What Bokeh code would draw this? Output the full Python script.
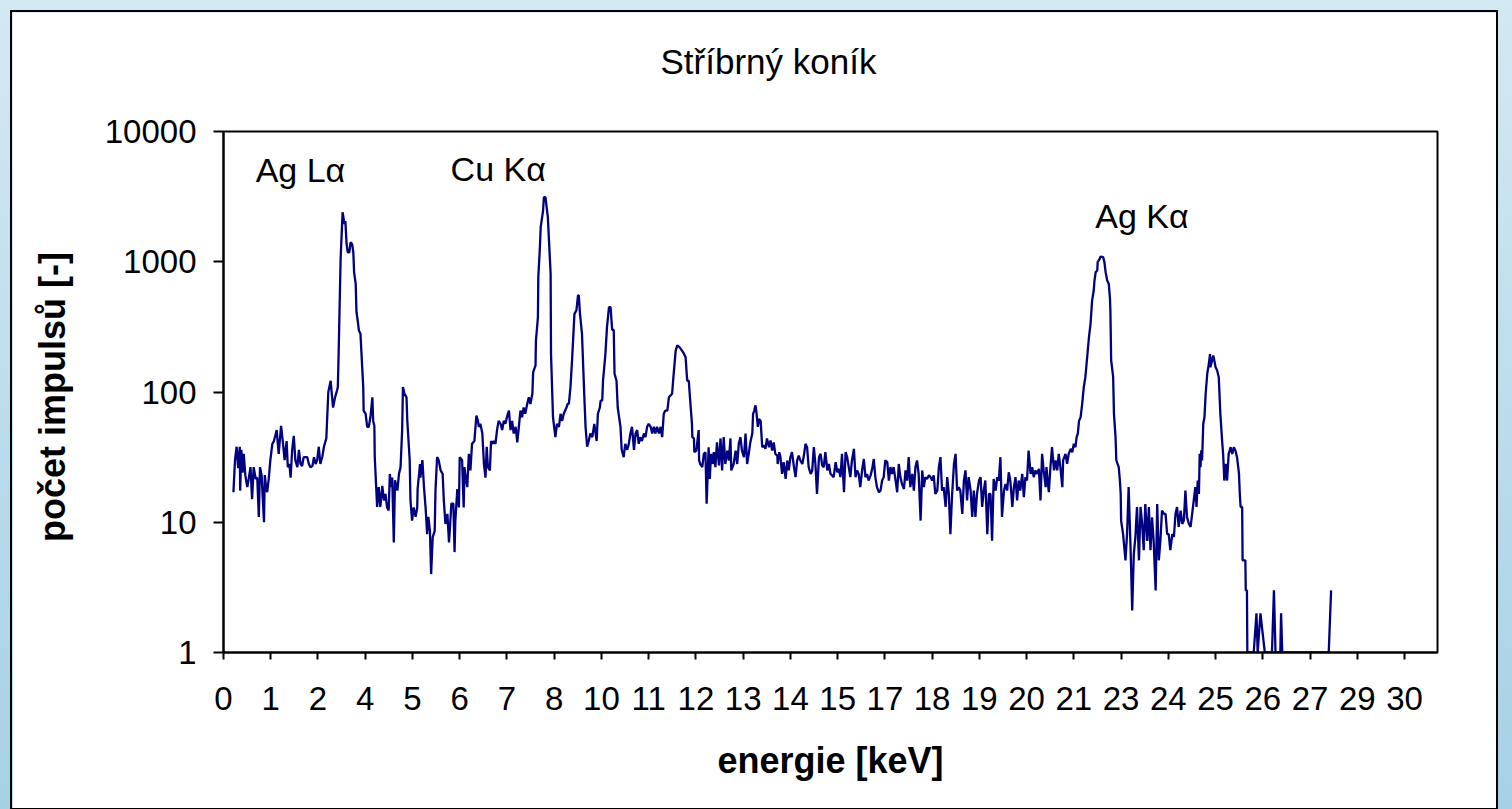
from bokeh.plotting import figure
from bokeh.models import (Range1d, FixedTicker, Label, PrintfTickFormatter, Title, LinearAxis,
                          ColumnDataSource, InlineStyleSheet, GlobalInlineStyleSheet)
from bokeh.embed import file_html
from bokeh.resources import INLINE

# ---------------- data ----------------
title_text = "Stříbrný koník"
x_label = "energie [keV]"
y_label = "počet impulsů  [-]"

x_tick_labels = ["0", "1", "2", "4", "5", "6", "7", "8", "10", "11", "12", "13", "14",
                 "15", "17", "18", "19", "20", "21", "23", "24", "25", "26", "27", "29", "30"]
x_tick_step_kev = 1.19
y_ticks = [1, 10, 100, 1000, 10000]

peak_names = ["Ag Lα", "Cu Kα", "Ag Kα"]
peak_label_kev = [0.81, 5.72, 21.96]
peak_label_counts = [5060, 5150, 2240]

energy_kev = [
    0.25, 0.29, 0.33, 0.37, 0.41, 0.42, 0.45, 0.48, 0.51, 0.55, 0.58, 0.60, 0.64, 0.68, 0.72, 0.76,
    0.81, 0.85, 0.89, 0.92, 0.96, 1.02, 1.04, 1.07, 1.10, 1.14, 1.18, 1.23, 1.27, 1.31, 1.34, 1.39,
    1.45, 1.50, 1.54, 1.59, 1.62, 1.66, 1.69, 1.73, 1.77, 1.81, 1.86, 1.90, 1.94, 1.98, 2.02, 2.07,
    2.11, 2.15, 2.19, 2.24, 2.28, 2.32, 2.36, 2.40, 2.44, 2.49, 2.53, 2.59, 2.64, 2.70, 2.72, 2.76,
    2.81, 2.86, 2.88, 2.90, 2.95, 3.00, 3.02, 3.05, 3.07, 3.10, 3.13, 3.17, 3.20, 3.24, 3.27, 3.29,
    3.33, 3.35, 3.38, 3.41, 3.45, 3.52, 3.53, 3.58, 3.62, 3.66, 3.70, 3.75, 3.77, 3.80, 3.81, 3.87,
    3.91, 3.95, 4.00, 4.04, 4.08, 4.12, 4.16, 4.19, 4.22, 4.25, 4.29, 4.32, 4.38, 4.42, 4.46, 4.50,
    4.52, 4.56, 4.61, 4.63, 4.67, 4.69, 4.71, 4.75, 4.79, 4.84, 4.88, 4.89, 4.95, 4.96, 5.01, 5.05,
    5.09, 5.13, 5.16, 5.20, 5.23, 5.27, 5.32, 5.34, 5.38, 5.42, 5.47, 5.52, 5.55, 5.59, 5.64, 5.68,
    5.70, 5.74, 5.79, 5.82, 5.84, 5.89, 5.93, 5.95, 6.01, 6.05, 6.07, 6.10, 6.14, 6.18, 6.22, 6.26,
    6.32, 6.37, 6.41, 6.43, 6.47, 6.52, 6.56, 6.60, 6.63, 6.66, 6.71, 6.74, 6.78, 6.81, 6.85, 6.89,
    6.93, 6.98, 7.02, 7.06, 7.10, 7.15, 7.19, 7.23, 7.27, 7.31, 7.36, 7.40, 7.44, 7.48, 7.52, 7.56,
    7.60, 7.65, 7.69, 7.73, 7.78, 7.80, 7.86, 7.87, 7.92, 7.93, 7.97, 7.99, 8.05, 8.07, 8.11, 8.17,
    8.24, 8.25, 8.30, 8.36, 8.40, 8.45, 8.49, 8.53, 8.57, 8.64, 8.67, 8.70, 8.74, 8.78, 8.84, 8.89,
    8.93, 8.95, 8.98, 9.03, 9.09, 9.12, 9.16, 9.20, 9.24, 9.29, 9.34, 9.40, 9.43, 9.48, 9.50, 9.54,
    9.56, 9.62, 9.66, 9.71, 9.75, 9.79, 9.83, 9.85, 9.90, 9.93, 10.00, 10.03, 10.08, 10.12, 10.17, 10.21,
    10.25, 10.29, 10.34, 10.38, 10.42, 10.46, 10.50, 10.54, 10.59, 10.63, 10.67, 10.71, 10.76, 10.80, 10.84, 10.88,
    10.92, 10.97, 11.01, 11.05, 11.09, 11.13, 11.18, 11.22, 11.30, 11.34, 11.39, 11.43, 11.49, 11.55, 11.60, 11.64,
    11.68, 11.72, 11.75, 11.80, 11.81, 11.85, 11.86, 11.91, 11.97, 11.98,
    12.01, 12.06, 12.10, 12.14, 12.17, 12.22, 12.25, 12.28, 12.32, 12.35, 12.39, 12.43, 12.48, 12.52, 12.56, 12.60,
    12.64, 12.69, 12.73, 12.77, 12.79, 12.85, 12.90, 12.94, 12.98, 13.02, 13.06, 13.11, 13.15, 13.19, 13.23, 13.27,
    13.32, 13.34, 13.37, 13.40, 13.42, 13.46, 13.49, 13.53, 13.57, 13.61, 13.65, 13.69, 13.74, 13.78, 13.82, 13.86,
    13.90, 13.95, 13.96, 14.00, 14.03, 14.07, 14.11, 14.16, 14.20, 14.24, 14.28, 14.32, 14.37, 14.41, 14.45, 14.49,
    14.53, 14.58, 14.62, 14.66, 14.70, 14.74, 14.79, 14.83, 14.87, 14.91, 14.95, 15.00, 15.04, 15.08, 15.12, 15.16,
    15.21, 15.25, 15.29, 15.33, 15.37, 15.42, 15.46, 15.50, 15.54, 15.58, 15.63, 15.67, 15.71, 15.75, 15.79, 15.83,
    15.88, 15.92, 15.96, 16.00, 16.04, 16.09, 16.13, 16.17, 16.21, 16.25, 16.30, 16.34, 16.38, 16.42, 16.46, 16.51,
    16.55, 16.59, 16.63, 16.67, 16.72, 16.76, 16.80, 16.84, 16.88, 16.93, 16.97, 17.01, 17.05, 17.09, 17.14, 17.18,
    17.22, 17.26, 17.30, 17.35, 17.39, 17.43, 17.47, 17.51, 17.56, 17.60, 17.64, 17.68, 17.72, 17.77, 17.81, 17.85,
    17.89, 17.93, 17.98, 18.02, 18.06, 18.10, 18.14, 18.19, 18.23, 18.27, 18.31, 18.35, 18.40, 18.44, 18.48, 18.52,
    18.56, 18.61, 18.65, 18.69, 18.73, 18.77, 18.82, 18.86, 18.90, 18.94, 18.98, 19.03, 19.07, 19.11, 19.15, 19.19,
    19.24, 19.28, 19.32, 19.36, 19.40, 19.45, 19.49, 19.53, 19.57, 19.61, 19.66, 19.70, 19.74, 19.78, 19.82, 19.87,
    19.91, 19.95, 19.99, 20.03, 20.07, 20.12, 20.16, 20.20, 20.24, 20.28, 20.33, 20.37, 20.41, 20.45, 20.49, 20.54,
    20.58, 20.62, 20.66, 20.71, 20.73, 20.76, 20.79, 20.83, 20.87, 20.92, 20.96, 21.00, 21.04, 21.08, 21.13, 21.15,
    21.18, 21.21, 21.25, 21.29, 21.34, 21.38, 21.42, 21.46, 21.49, 21.52, 21.55, 21.59, 21.63, 21.67, 21.71, 21.74,
    21.80, 21.84, 21.86, 21.88, 21.92, 21.94, 21.97, 22.01, 22.02, 22.07, 22.09, 22.16, 22.19, 22.22, 22.26, 22.30,
    22.33, 22.34, 22.36, 22.41, 22.43, 22.47, 22.49, 22.55, 22.58, 22.60, 22.61, 22.66, 22.72, 22.76, 22.80, 22.85,
    22.89, 22.93, 22.97, 23.01, 23.06, 23.10, 23.14, 23.18, 23.22, 23.27, 23.31, 23.35, 23.39, 23.43, 23.48, 23.52,
    23.56, 23.60, 23.64, 23.69, 23.73, 23.77, 23.81, 23.85, 23.90, 23.94, 23.98, 24.02, 24.06, 24.11, 24.15, 24.19,
    24.23, 24.27, 24.32, 24.36, 24.40, 24.44, 24.48, 24.51, 24.54, 24.57, 24.59, 24.61, 24.63, 24.65, 24.68, 24.71,
    24.74, 24.78, 24.82, 24.85, 24.86, 24.88, 24.93, 24.95, 24.99, 25.03, 25.07, 25.11, 25.16, 25.18, 25.21, 25.25,
    25.28, 25.32, 25.37, 25.41, 25.45, 25.49, 25.53, 25.58, 25.60, 25.62, 25.66, 25.67, 25.74, 25.75, 25.78, 25.79,
    25.95, 26.02, 26.05, 26.12, 26.23, 26.41, 26.46, 26.50, 26.62, 26.64, 26.67, 27.84, 27.90,
]

counts = [
    17, 30, 38, 26, 38, 17.5, 36, 24, 33.5, 23, 20, 18.6, 22, 26.5, 15, 26.5,
    21.5, 22, 11, 26.5, 23, 10, 23, 19, 17, 21.5, 30, 40, 42, 47, 51, 33.5,
    55, 40, 30, 42, 26.5, 28, 22, 36, 46, 30, 26.5, 36, 28, 27, 31.6, 31.6,
    31.6, 28, 26.5, 27, 31.6, 28, 30, 38, 28, 32, 38, 44, 100, 122, 103, 76,
    91, 103, 109, 196, 1054, 2400, 2200, 1950, 2050, 1370, 1180, 1180, 1410, 1370, 1180, 830,
    676, 410, 354, 297, 280, 109, 72, 68, 54, 54, 64, 91, 60, 55, 31.6, 13.1,
    18.6, 13.1, 19, 14.7, 16.5, 13, 12.3, 23.5, 18.6, 22, 7, 21, 17.5, 23.5, 26.5, 51,
    109, 97, 91, 60, 38, 30, 14.7, 10.3, 13, 11, 13, 18, 28, 22, 30, 18.6,
    13, 8.1, 11, 8.6, 4.0, 7.7, 8.6, 17.5, 31.6, 30, 25, 23.5, 14.7, 9.7, 11.6, 7,
    8.6, 13.9, 13.9, 5.9, 10.3, 18, 13, 31.6, 30, 13, 26.5, 22, 18.6, 33.5, 25, 40,
    42, 66, 60, 54, 57, 48, 28, 22, 38, 26.5, 25, 42, 40, 42, 40, 51,
    60, 57, 51, 60, 57, 66, 72, 51, 60, 48, 54, 41, 54, 72, 64, 76,
    68, 81, 91, 81, 97, 142, 160, 248, 375, 762, 1295, 1842, 2470, 3130, 3130, 2200,
    808, 196, 64, 45, 57, 54, 68, 60, 68, 76, 81, 81, 109, 175, 398, 423,
    551, 551, 398, 280, 91, 54, 38, 42, 48, 45, 57, 42, 68, 76, 86, 86,
    122, 196, 315, 449, 449, 300, 300, 138, 122, 76, 54, 36, 31.6, 40, 36, 40,
    48, 54, 36, 48, 51, 40, 45, 42, 48, 45, 54, 57, 54, 48, 54, 48,
    54, 48, 54, 45, 68, 72, 72, 91, 97, 138, 208, 228, 220, 208, 196, 185,
    122, 122, 91, 57, 45, 44, 34.5, 35.5, 51, 29.8,
    28, 26.5, 33.5, 34.5, 13.9, 37.7, 21.5, 33.5, 28, 34.5, 26.5, 41, 27.3, 44, 25, 45,
    28, 35.5, 29.8, 44, 25, 28, 35.5, 28, 40, 45, 35.5, 31.6, 48, 28, 33.5, 41,
    48, 68, 72, 79, 72, 54, 62, 60, 37.7, 39, 36.6, 44, 37.7, 42.5, 35.5, 41,
    33.5, 32.5, 28, 34.5, 31.6, 23.5, 28.9, 21.5, 29.8, 25, 31.6, 34.5, 26.5, 22.2, 29.8, 32.5,
    29.8, 28, 32.5, 40, 37.7, 26.5, 23.5, 25, 37.7, 28, 16.5, 31.6, 33.5, 27.3, 26.5, 34.5,
    25, 28, 23.5, 22.9, 22.2, 28.9, 24.2, 25.7, 22.2, 33.5, 17, 34.5, 31.6, 26.5, 22.2, 29.8,
    36.6, 22.2, 25, 23.5, 18.6, 25.7, 30.6, 22.2, 23.5, 20.9, 22.9, 25.7, 30.6, 22.2, 18.6, 17,
    17.5, 20.9, 22.2, 29.8, 28.9, 20.9, 26.5, 23.5, 26.5, 20.9, 17, 28, 22.2, 19.7, 18, 25,
    20.9, 31.6, 18.6, 23.5, 17.5, 26.5, 29.8, 23.5, 10.3, 25, 18.6, 22.2, 21.5, 22.9, 22.2, 20.9,
    22.9, 16.5, 17.5, 26.5, 31.6, 17.5, 18.6, 13.1, 22.2, 16.5, 8.1, 15.6, 28, 33.5, 17.5, 18.6,
    17.5, 11.6, 20.9, 25, 14.7, 22.2, 17.5, 11, 17.5, 11, 16.5, 20.9, 22.2, 13.1, 17.5, 20.9,
    8.1, 16.5, 16.5, 7.2, 21.5, 17.5, 22.2, 20.9, 31.6, 11, 17.5, 19.7, 17.5, 24.2, 20.9, 13.1,
    18.6, 22.2, 14.7, 20.9, 17.5, 23.5, 15.6, 22.2, 20.9, 35.5, 23.5, 26.5, 22.2, 25, 23.5, 25.7,
    14.7, 33.5, 25, 18.6, 26.5, 20.9, 17, 26.5, 37.7, 25, 29.8, 25, 33.5, 26.5, 18.6, 29.8,
    31.6, 33.5, 28.1, 33.5, 36.6, 34.5, 40, 37.7, 45, 48, 60, 64, 81, 109, 130, 164,
    263, 334, 410, 504, 601, 718, 832, 857, 993, 1053, 1097, 1084, 993, 832, 718, 676,
    519, 422, 175, 130, 68, 45, 29.8, 26.5, 20.9, 16.5, 10.3, 8.1, 5.1, 8.1, 18.6, 6.1,
    2.1, 5.7, 7.7, 13.1, 5.1, 13.1, 9.7, 6.1, 13.8, 7.2, 13.1, 6.1, 10.9, 7.2, 3.0, 13.8,
    5.1, 7.2, 12.3, 11.6, 11.6, 8.1, 8.1, 6.1, 8.1, 7.7, 11.6, 13.1, 9.2, 12.3, 9.7, 10.3,
    17.5, 10.9, 9.7, 9.2, 11.6, 14.7, 18.6, 13.1, 20.9, 16.5, 33.5, 26.5, 35.6, 29.8, 57, 64,
    97, 138, 164, 196, 155, 164, 191, 180, 155, 146, 130, 68, 40, 33.5, 20.9, 28.1,
    20.9, 33.5, 37.7, 33.5, 37.7, 35.6, 31.6, 23.5, 16.5, 13.1, 13.1, 5.1, 5.1, 3.0, 3.0, 1,
    1, 2.0, 1, 2.0, 1, 1, 3.0, 1, 1, 2.0, 1, 1, 3.0,
]

# ---------------- figure ----------------
page_css = GlobalInlineStyleSheet(css="""
html { height: 100%; background: linear-gradient(180deg, #d3e9f3 0%, #a6d1e5 100%); }
html, body { overflow: hidden; }
""")
box_css = InlineStyleSheet(css=":host { border: 2px solid #000000; }")

p = figure(width=1488, height=800, y_axis_type="log",
           x_range=Range1d(0, 30.58), y_range=Range1d(1, 10000),
           output_backend="svg", toolbar_location=None, margin=(10, 0, 0, 10),
           min_border_left=211, min_border_right=63, min_border_top=119, min_border_bottom=160,
           background_fill_color="white", border_fill_color="white",
           outline_line_color="black", outline_line_width=2,
           stylesheets=[page_css, box_css])

source = ColumnDataSource(dict(energy=energy_kev, counts=counts))
p.line(x="energy", y="counts", source=source, line_color="#000080", line_width=2.3)

p.grid.visible = False

xax = p.below[0]
yax = p.left[0]

# invisible spacer between the frame and the title, then the title itself
spacer = LinearAxis(ticker=FixedTicker(ticks=[15]), axis_line_color=None,
                    major_tick_line_color=None, minor_tick_line_color=None,
                    major_tick_out=46, major_tick_in=0, major_label_standoff=0,
                    major_label_text_color=None)
p.add_layout(spacer, "above")
p.add_layout(Title(text=title_text, align="left", offset=437, standoff=10,
                   text_font="Liberation Sans", text_font_size="35px",
                   text_font_style="normal", text_color="black"), "above")

x_ticks = [round(i * x_tick_step_kev, 2) for i in range(len(x_tick_labels))]
xax.ticker = FixedTicker(ticks=x_ticks)
xax.major_label_overrides = {t: lab for t, lab in zip(x_ticks, x_tick_labels)}
yax.ticker = FixedTicker(ticks=y_ticks)
yax.formatter = PrintfTickFormatter(format="%d")

for ax in (xax, yax):
    ax.axis_line_color = "black"
    ax.axis_line_width = 2
    ax.major_tick_line_color = "black"
    ax.major_tick_line_width = 2
    ax.major_tick_in = 0
    ax.minor_tick_line_color = None
    ax.major_label_text_font = "Liberation Sans"
    ax.major_label_text_font_size = "33px"
    ax.major_label_text_color = "black"
    ax.axis_label_text_font = "Liberation Sans"
    ax.axis_label_text_font_size = "36px"
    ax.axis_label_text_font_style = "bold"
    ax.axis_label_text_color = "black"

xax.major_tick_out = 7
xax.major_label_standoff = 27
xax.axis_label = x_label
xax.axis_label_standoff = 27

yax.major_tick_out = 10
yax.major_label_standoff = 17
yax.axis_label = y_label
yax.axis_label_standoff = 29

for name, xk, yc in zip(peak_names, peak_label_kev, peak_label_counts):
    p.add_layout(Label(x=xk, y=yc, text=name, text_align="left",
                       text_baseline="alphabetic", text_font="Liberation Sans",
                       text_font_size="34px", text_color="black"))

open("out.html", "w").write(file_html(p, INLINE))
